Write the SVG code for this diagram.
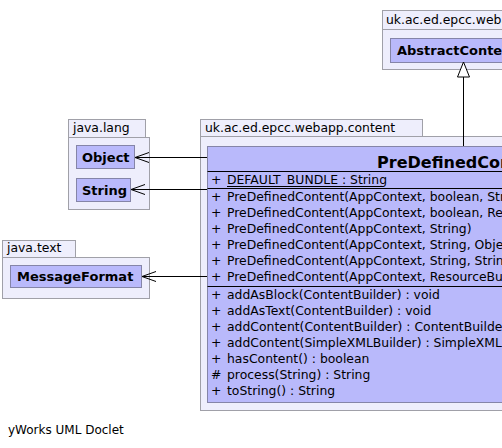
<svg xmlns="http://www.w3.org/2000/svg" width="502" height="448" viewBox="0 0 502 448">
<style>
.pkg{fill:#eeeefc;stroke:#a0a0a8;stroke-width:1}
.cls{fill:#b9b9fb;stroke:#8585a8;stroke-width:1}
.sep{stroke:#000;stroke-width:1}
.pl{font-family:"DejaVu Sans",sans-serif;font-size:12.4px;fill:#000}
.cn{font-family:"DejaVu Sans",sans-serif;font-size:13px;font-weight:bold;fill:#000}
.hn{font-family:"DejaVu Sans",sans-serif;font-size:16px;font-weight:bold;fill:#000}
.m{font-family:"DejaVu Sans",sans-serif;font-size:12.4px;fill:#000}
.f{font-family:"DejaVu Sans",sans-serif;font-size:12px;fill:#000}
.ln{stroke:#000;stroke-width:1;fill:none}
</style>
<rect width="502" height="448" fill="#fff"/>
<g id="pkg-webapp">
<rect class="pkg" x="382.5" y="10.5" width="140" height="19"/>
<rect class="pkg" x="382.5" y="29.5" width="140" height="40"/>
<text class="pl" x="386" y="24">uk.ac.ed.epcc.webapp</text>
</g>
<g id="AbstractContent">
<rect class="cls" x="390.5" y="38.5" width="130" height="24"/>
<text class="cn" x="397" y="55">AbstractContent</text>
</g>
<g id="pkg-java-lang">
<rect class="pkg" x="68.5" y="119.5" width="77" height="18"/>
<rect class="pkg" x="68.5" y="137.5" width="81" height="72"/>
<text class="pl" x="73" y="132">java.lang</text>
</g>
<g id="Object">
<rect class="cls" x="76.5" y="145.5" width="58" height="23"/>
<text class="cn" x="82" y="162">Object</text>
</g>
<g id="String">
<rect class="cls" x="76.5" y="178.5" width="54" height="23"/>
<text class="cn" x="82" y="195">String</text>
</g>
<g id="pkg-java-text">
<rect class="pkg" x="2.5" y="240.5" width="73" height="17"/>
<rect class="pkg" x="2.5" y="257.5" width="147" height="41"/>
<text class="pl" x="7" y="252">java.text</text>
</g>
<g id="MessageFormat">
<rect class="cls" x="10.5" y="265.5" width="131" height="22"/>
<text class="cn" x="17" y="281">MessageFormat</text>
</g>
<g id="pkg-content">
<rect class="pkg" x="200.5" y="119.5" width="222" height="17"/>
<rect class="pkg" x="200.5" y="136.5" width="330" height="274"/>
<text class="pl" x="205" y="132">uk.ac.ed.epcc.webapp.content</text>
</g>
<g id="PreDefinedContent">
<rect class="cls" x="207.5" y="146.5" width="512" height="256"/>
<text class="hn" x="463" y="168" text-anchor="middle">PreDefinedContent</text>
<line class="sep" x1="207.5" y1="171.5" x2="720" y2="171.5"/>
<text class="m" x="211" y="184">+</text>
<text class="m" x="227" y="184">DEFAULT_BUNDLE : String</text>
<line class="sep" x1="227" y1="186.5" x2="383" y2="186.5"/>
<line class="sep" x1="207.5" y1="188.5" x2="720" y2="188.5"/>
<text class="m" x="211" y="201">+</text><text class="m" x="227" y="201">PreDefinedContent(AppContext, boolean, String</text>
<text class="m" x="211" y="217">+</text><text class="m" x="227" y="217">PreDefinedContent(AppContext, boolean, ResourceBundle</text>
<text class="m" x="211" y="233">+</text><text class="m" x="227" y="233">PreDefinedContent(AppContext, String)</text>
<text class="m" x="211" y="249">+</text><text class="m" x="227" y="249">PreDefinedContent(AppContext, String, Object</text>
<text class="m" x="211" y="265">+</text><text class="m" x="227" y="265">PreDefinedContent(AppContext, String, String</text>
<text class="m" x="211" y="281">+</text><text class="m" x="227" y="281">PreDefinedContent(AppContext, ResourceBundle</text>
<line class="sep" x1="207.5" y1="286.5" x2="720" y2="286.5"/>
<text class="m" x="211" y="299">+</text><text class="m" x="227" y="299">addAsBlock(ContentBuilder) : void</text>
<text class="m" x="211" y="315">+</text><text class="m" x="227" y="315">addAsText(ContentBuilder) : void</text>
<text class="m" x="211" y="331">+</text><text class="m" x="227" y="331">addContent(ContentBuilder) : ContentBuilder</text>
<text class="m" x="211" y="347">+</text><text class="m" x="227" y="347">addContent(SimpleXMLBuilder) : SimpleXMLBuilder</text>
<text class="m" x="211" y="363">+</text><text class="m" x="227" y="363">hasContent() : boolean</text>
<text class="m" x="211" y="379">#</text><text class="m" x="227" y="379">process(String) : String</text>
<text class="m" x="211" y="395">+</text><text class="m" x="227" y="395">toString() : String</text>
</g>
<g id="connectors">
<path class="ln" d="M463.5,146 V77"/>
<path d="M463.5,62 L457.5,77 L469.5,77 Z" fill="#fff" stroke="#000"/>
<path class="ln" d="M207,157.5 H135 M149,152.5 L135,157.5 L149,162.5"/>
<path class="ln" d="M207,189.5 H131 M145,184.5 L131,189.5 L145,194.5"/>
<path class="ln" d="M207,276.5 H142 M156,271.5 L142,276.5 L156,281.5"/>
</g>
<text class="f" x="8" y="434">yWorks UML Doclet</text>
</svg>
